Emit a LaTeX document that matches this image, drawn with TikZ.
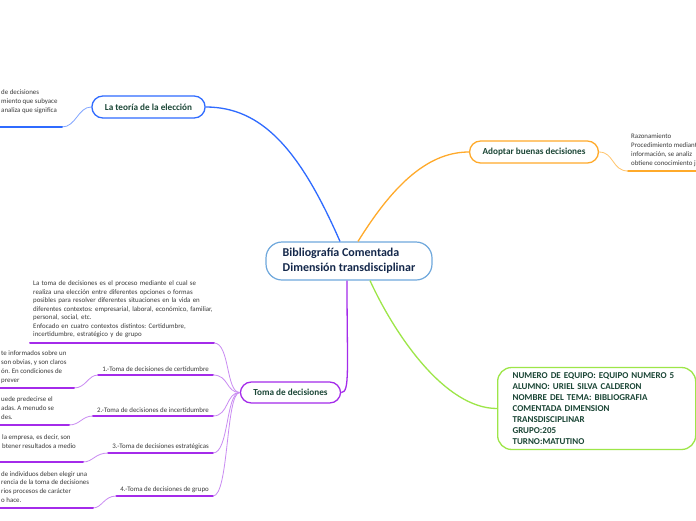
\documentclass[tikz,border=0pt]{standalone}
\usepackage{fontspec}
\setmainfont{Carlito}
\usetikzlibrary{positioning}
\frenchspacing
\definecolor{hubblue}{HTML}{6FA8DC}
\definecolor{navytxt}{HTML}{14284B}
\definecolor{pinetxt}{HTML}{1B4636}
\definecolor{brblue}{HTML}{2F6BFF}
\definecolor{brorange}{HTML}{FFAA2B}
\definecolor{brlime}{HTML}{9DE648}
\definecolor{brpurple}{HTML}{A42BEA}
\definecolor{brlilac}{HTML}{C98BF2}
\definecolor{notegray}{HTML}{3A3A3A}

\begin{document}
\begin{tikzpicture}[x=1pt, y=-1pt,
  topic/.style={draw, rounded corners=11pt, line width=1.3pt, fill=white,
    font=\fontsize{9.2}{10}\selectfont\bfseries, text=pinetxt,
    inner xsep=13pt, minimum height=22pt},
  note/.style={font=\fontsize{6.9}{8.7}\selectfont, text=notegray,
    align=left, inner sep=0pt, anchor=north west},
  sublabel/.style={font=\fontsize{6.9}{8}\selectfont, text=notegray,
    inner xsep=4pt, inner ysep=3pt, anchor=south east},
  uline/.style={line width=2pt, line cap=round},
  twig/.style={line width=0.8pt},
  limb/.style={line width=1.3pt}]

% Canvas: same size as the screenshot, y grows downwards
\useasboundingbox (0,0) rectangle (696,520);
\fill[white] (0,0) rectangle (696,520);
\clip (0,0) rectangle (696,520);

% Central topic
\node[draw=hubblue, line width=1.2pt, rounded corners=16pt, fill=white,
  text=navytxt, font=\fontsize{12}{15}\selectfont\bfseries, align=left,
  inner xsep=15pt, minimum height=38pt, minimum width=166pt]
  (hub) at (349,261) {Bibliografía Comentada\\Dimensión transdisciplinar};

% Main branches
\node[topic, draw=brblue] (teoria) at (148.5,107) {La teoría de la elección};
\node[topic, draw=brorange] (adoptar) at (534,152) {Adoptar buenas decisiones};
\node[topic, draw=brpurple, minimum height=21pt] (toma) at (290.5,392.5) {Toma de decisiones};
\node[draw=brlime, line width=1.3pt, rounded corners=14pt, fill=white,
  text=pinetxt, font=\fontsize{9}{11}\selectfont\bfseries, align=left,
  text width=168pt, inner xsep=15pt, inner ysep=5pt, anchor=west]
  (equipo) at (497,408.5)
  {NUMERO DE EQUIPO: EQUIPO NUMERO 5\\
   ALUMNO: URIEL SILVA CALDERON\\
   NOMBRE DEL TEMA: BIBLIOGRAFIA\\
   COMENTADA DIMENSION\\
   TRANSDISCIPLINAR\\
   GRUPO:205\\
   TURNO:MATUTINO};

\draw[limb, brblue] ([xshift=-9pt]hub.north) .. controls (300,150) and (262,107) .. (teoria.east);
\draw[limb, brorange] ([xshift=9pt]hub.north) .. controls (390,190) and (425,152) .. (adoptar.west);
\draw[limb, brlime] ([xshift=21pt]hub.south) .. controls (395,335) and (445,408.5) .. (equipo.west);
\draw[limb, brpurple] ([xshift=-2pt]hub.south) .. controls (347,370) and (350,392.5) .. (toma.east);

% La teoria de la eleccion -- note
\coordinate (teoriaend) at (62,127);
\draw[twig, brblue!60] (teoria.west) .. controls (78,107) and (76,127) .. (teoriaend);
\draw[uline, brblue] (teoriaend) -- (-5,127);
\node[note, font=\fontsize{6.9}{9}\selectfont] (teorianote) at (1,90)
  {de decisiones\\miento que subyace\\analiza que significa};

% Adoptar buenas decisiones -- note
\coordinate (adoptarend) at (628,171);
\draw[twig, brorange!70] (adoptar.east) .. controls (614,152) and (612,171) .. (adoptarend);
\draw[uline, brorange] (adoptarend) -- (705,171);
\node[note, font=\fontsize{6.9}{9}\selectfont] (adoptarnote) at (631,134)
  {Razonamiento\\Procedimiento mediant\\información, se analiz\\obtiene conocimiento j};

% Toma de decisiones -- general note
\node[note, text width=190pt, font=\fontsize{6.9}{8.5}\selectfont] (tomanote) at (33,281)
  {La toma de decisiones es el proceso mediante el cual se\\
   realiza una elección entre diferentes opciones o formas\\
   posibles para resolver diferentes situaciones en la vida en\\
   diferentes contextos: empresarial, laboral, económico, familiar,\\
   personal, social, etc.\\
   Enfocado en cuatro contextos distintos: Certidumbre,\\
   incertidumbre, estratégico y de grupo};
\coordinate (tomaend) at (214,343);
\draw[uline, brpurple] (30,343) -- (tomaend);
\draw[twig, brlilac] (tomaend) .. controls +(16,0) and +(-14,0) .. (toma.west);

% Toma de decisiones -- four contexts
\node[sublabel] (cert) at (213,375) {1.-Toma de decisiones de certidumbre};
\node[sublabel] (incert) at (213,416) {2.-Toma de decisiones de incertidumbre};
\node[sublabel] (estrat) at (213,453) {3.-Toma de decisiones estratégicas};
\node[sublabel] (grupo) at (213,496) {4.-Toma de decisiones de grupo};

\foreach \sub in {cert,incert,estrat,grupo}{
  \draw[uline, brpurple] (\sub.south west) -- (\sub.south east);
  \draw[twig, brlilac] (\sub.south east) .. controls +(16,0) and +(-14,0) .. (toma.west);
}

% Notes behind each context (cut at the left edge)
\coordinate (certend) at (74,388);
\draw[twig, brlilac] (cert.south west) .. controls (88,375) and (86,388) .. (certend);
\draw[uline, brpurple] (certend) -- (-5,388);
\node[note] (certnote) at (1,351)
  {te informados sobre un\\son obvias, y son claros\\ón. En condiciones de\\prever};

\coordinate (incertend) at (69,425);
\draw[twig, brlilac] (incert.south west) .. controls (82,416) and (80,425) .. (incertend);
\draw[uline, brpurple] (incertend) -- (-5,425);
\node[note] (incertnote) at (1,397)
  {uede predecirse el\\adas. A menudo se\\des.};

\coordinate (estratend) at (83,462);
\draw[twig, brlilac] (estrat.south west) .. controls (95,453) and (93,462) .. (estratend);
\draw[uline, brpurple] (estratend) -- (-5,462);
\node[note] (estratnote) at (2,435)
  {la empresa, es decir, son\\btener resultados a medio};

\coordinate (grupoend) at (93,508);
\draw[twig, brlilac] (grupo.south west) .. controls (104,496) and (102,508) .. (grupoend);
\draw[uline, brpurple] (grupoend) -- (-5,508);
\node[note] (grupnote) at (1,471)
  {de individuos deben elegir una\\rencia de la toma de decisiones\\rios procesos de carácter\\o hace.};

\end{tikzpicture}
\end{document}
